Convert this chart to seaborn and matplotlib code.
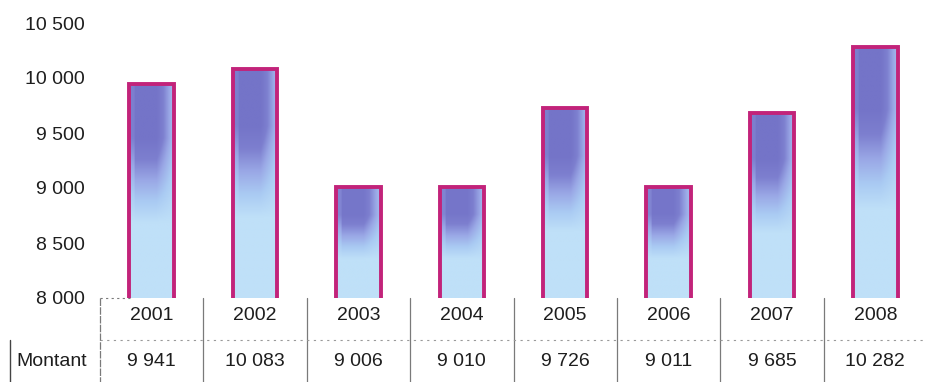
import numpy as np
import pandas as pd
import matplotlib
matplotlib.use("Agg")
import matplotlib.pyplot as plt
import seaborn as sns
from matplotlib.colors import LinearSegmentedColormap
from matplotlib.transforms import blended_transform_factory

years = ["2001", "2002", "2003", "2004", "2005", "2006", "2007", "2008"]
montant = [9941, 10083, 9006, 9010, 9726, 9011, 9685, 10282]
y_ticks = [8000, 8500, 9000, 9500, 10000, 10500]
row_label = "Montant"


def fmt(v):
    return f"{v:,}".replace(",", " ")


df = pd.DataFrame({"annee": years, "montant": montant})

sns.set_theme(style="white")
plt.rcParams["font.family"] = ["Liberation Sans", "DejaVu Sans"]

W, H = 927, 382
FS = 14
TXT = "#1e1e1e"
fig = plt.figure(figsize=(W / 100, H / 100), dpi=100)
ax = fig.add_axes([100 / W, 1 - 298 / H, 827 / W, (298 - 23) / H])

sns.barplot(data=df, x="annee", y="montant", ax=ax, width=0.43,
            facecolor="none", edgecolor="#c2237a", linewidth=2.8, zorder=3)

Y0, Y1 = 8000, 10500
ax.set_ylim(Y0, Y1)
ax.set_xlim(-0.5, len(years) - 0.5)
ax.set_yticks(y_ticks)
ax.set_yticklabels([fmt(t) for t in y_ticks], fontsize=FS, color=TXT)
ax.tick_params(axis="y", length=0, pad=11)
ax.set_xticks([])
ax.set_xlabel("")
ax.set_ylabel("")
for s in ax.spines.values():
    s.set_visible(False)

# shaded fill inside each bar: light blue at the foot, violet towards the top-left
cmap = LinearSegmentedColormap.from_list(
    "fill", ["#bfe0f8", "#aacbf3", "#9aa8e6", "#7d7fcf", "#7474c8"])
ny, nx = 200, 40
vy = np.linspace(0, 1, ny).reshape(-1, 1)
hx = np.linspace(0, 1, nx).reshape(1, -1)
horiz = np.where(hx < 0.62, 1.0, 1.0 - (hx - 0.62) / 0.38 * 0.65)
horiz = np.where(hx < 0.12, 0.75, horiz)
for p in ax.patches:
    x0, w = p.get_x(), p.get_width()
    top = p.get_y() + p.get_height()
    frac = (top - Y0) / (Y1 - Y0)
    vert = np.clip((vy - 0.35) / 0.4, 0, 1) * min(1.0, 0.55 + frac)
    img = vert * horiz
    ax.imshow(img, cmap=cmap, vmin=0, vmax=1, aspect="auto", origin="lower",
              extent=[x0, x0 + w, Y0, top], zorder=2, interpolation="bilinear")
ax.set_xlim(-0.5, len(years) - 0.5)
ax.set_ylim(Y0, Y1)

# data table under the plot
trans = blended_transform_factory(ax.transData, fig.transFigure)
y_top, y_mid, y_bot = 1 - 298 / H, 1 - 340 / H, 0.0
y_year, y_val = 1 - 316 / H, 1 - 361 / H
grey = "#7a7a7a"
for i, (yr, v) in enumerate(zip(years, montant)):
    ax.text(i, y_year, yr, transform=trans, ha="center", va="center",
            fontsize=FS, color=TXT)
    ax.text(i, y_val, fmt(v), transform=trans, ha="center", va="center",
            fontsize=FS, color=TXT)
for b in np.arange(-0.5, len(years) - 0.5, 1.0):
    ax.plot([b, b], [y_top, y_bot], transform=trans, color=grey,
            lw=0.9, clip_on=False, linestyle=(0, (6, 1)) if b < 0 else "-")
ax.plot([-0.5, len(years) - 0.5], [y_mid, y_mid], transform=trans,
        color="#9a9a9a", lw=0.8, linestyle=(0, (2, 4)), clip_on=False)
ax.plot([-0.5, -0.2], [y_top, y_top], transform=trans,
        color=grey, lw=0.8, linestyle=(0, (2, 3)), clip_on=False)

fig.lines.append(plt.Line2D([10 / W, 10 / W], [y_mid, y_bot],
                            transform=fig.transFigure, color="#444444", lw=1.0))
fig.text(16 / W, y_val, row_label, ha="left", va="center",
         fontsize=FS, color=TXT)

fig.savefig("out.png", dpi=100, facecolor="white")
